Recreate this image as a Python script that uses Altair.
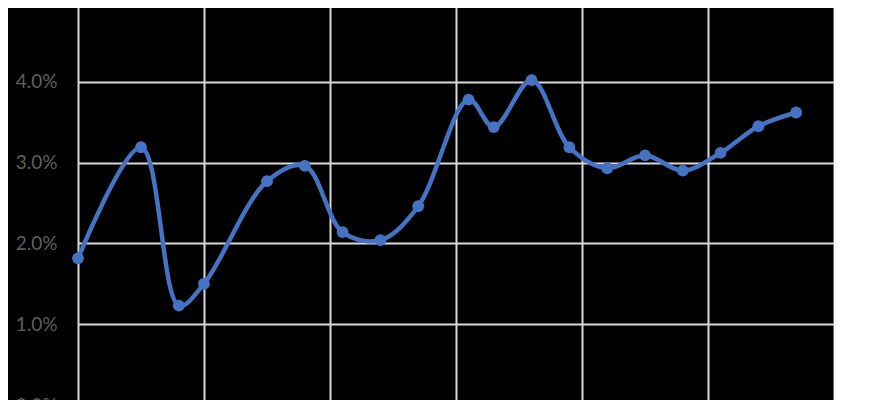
import altair as alt
import pandas as pd

x_pos = [0, 5, 8, 10, 15, 18, 21, 24, 27, 31, 33, 36, 39, 42, 45, 48, 51, 54, 57]
rate = [1.815, 3.19, 1.23, 1.50, 2.77, 2.96, 2.14, 2.04, 2.46, 3.78, 3.44, 4.02,
        3.19, 2.93, 3.09, 2.90, 3.12, 3.45, 3.62]
y_ticks = [0.0, 0.01, 0.02, 0.03, 0.04, 0.05]
x_ticks = [0, 10, 20, 30, 40, 50, 60]

df = pd.DataFrame({"x": x_pos, "rate": [r / 100 for r in rate]})

base = alt.Chart(df).encode(
    x=alt.X("x:Q", scale=alt.Scale(domain=[0, 60], nice=False),
            axis=alt.Axis(values=x_ticks, labels=False, ticks=False, domain=False,
                          grid=True, title=None)),
    y=alt.Y("rate:Q", scale=alt.Scale(domain=[0, 0.05], nice=False),
            axis=alt.Axis(values=y_ticks, format=".1%", ticks=False, domain=False,
                          grid=True, title=None, labelPadding=21)),
)

line = base.mark_line(interpolate="catmull-rom", color="#4472C4", strokeWidth=4.5)
pts = base.mark_point(filled=True, color="#4472C4", size=140, opacity=1)

chart = (line + pts).properties(
    width=756, height=404,
    autosize=alt.AutoSizeParams(type="none"),
    padding={"left": 70, "top": -7, "right": 0, "bottom": 0},
    background="black",
).configure_view(stroke=None).configure_axis(
    gridColor="#d9d9d9", gridWidth=2, gridOpacity=1,
    labelColor="#5f5f5f", labelFont="Lato", labelFontSize=19,
)

chart.save("out.html", embed_options={"renderer": "svg", "actions": False})
